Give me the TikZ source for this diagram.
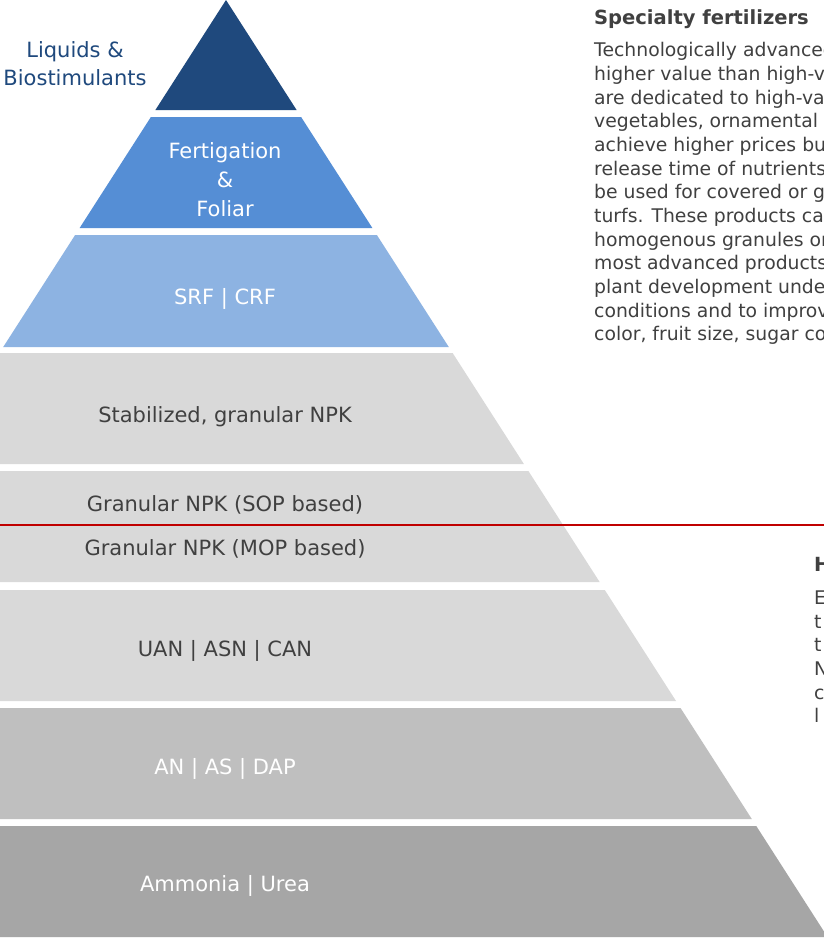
\documentclass[tikz,border=0pt]{standalone}
\usepackage{fontspec}
\setmainfont{DejaVu Sans}
\definecolor{navy}{HTML}{1F497D}
\definecolor{midblue}{HTML}{558ED5}
\definecolor{lightblue}{HTML}{8DB3E2}
\definecolor{grayA}{HTML}{D9D9D9}
\definecolor{grayB}{HTML}{BFBFBF}
\definecolor{grayC}{HTML}{A6A6A6}
\definecolor{txt}{HTML}{404040}
\definecolor{redline}{HTML}{C00000}
\newcommand\pyrlayer[3]{\fill[#3] ({226-0.642*#1},#1) -- ({226+0.642*#1},#1) -- ({226+0.642*#2},#2) -- ({226-0.642*#2},#2) -- cycle;}
\begin{document}
\begin{tikzpicture}[x=1pt,y=-1pt,
  lbl/.style={font=\fontsize{21}{28}\selectfont, align=center, inner sep=0pt},
  wlbl/.style={lbl, text=white},
  dlbl/.style={lbl, text=txt},
  body/.style={font=\fontsize{18.8}{22}\selectfont, text=txt, anchor=base west, inner sep=0pt},
  head/.style={font=\fontsize{19.5}{22}\selectfont\bfseries, text=txt, anchor=base west, inner sep=0pt}]
\useasboundingbox (0,0) rectangle (824,938);
\clip (0,0) rectangle (824,938);
\fill[white] (0,0) rectangle (824,938);
% pyramid layers
\fill[navy] (226,0) -- ({226+0.642*110},110) -- ({226-0.642*110},110) -- cycle;
\pyrlayer{117}{228}{midblue}
\pyrlayer{235}{347}{lightblue}
\pyrlayer{353}{464}{grayA}
\pyrlayer{471}{582}{grayA}
\pyrlayer{590}{701}{grayA}
\pyrlayer{708}{819}{grayB}
\pyrlayer{826}{937}{grayC}
% red divider
\coordinate (rl) at (0,525);
\coordinate (rr) at (824,525);
\draw[redline, line width=2.2pt] (rl) -- (rr);
% labels
\node[lbl, text=navy] (liq) at (75,64) {Liquids \&\\Biostimulants};
\node[wlbl, font=\fontsize{21}{29}\selectfont] (fert) at (225,180) {Fertigation\\\&\\Foliar};
\node[wlbl] (srf) at (225,299) {SRF | CRF};
\node[dlbl] (stab) at (225,417) {Stabilized, granular NPK};
\node[dlbl] (sop) at (225,505) {Granular NPK (SOP based)};
\node[dlbl] (mop) at (225,549) {Granular NPK (MOP based)};
\node[dlbl] (uan) at (225,651) {UAN | ASN | CAN};
\node[wlbl] (an) at (225,769) {AN | AS | DAP};
\node[wlbl] (amm) at (225,886) {Ammonia | Urea};
% right text
\node[head] (h1) at (594,24) {Specialty fertilizers};
\node[body] (b1) at (594,56) {Technologically advanced};
\node[body] (b2) at (594,80) {higher value than high-vo};
\node[body] (b3) at (594,104) {are dedicated to high-val};
\node[body] (b4) at (594,127) {vegetables, ornamental};
\node[body] (b5) at (594,151) {achieve higher prices but};
\node[body] (b6) at (594,175) {release time of nutrients};
\node[body] (b7) at (594,198) {be used for covered or gr};
\node[body] (b8) at (594,222) {turfs. These products can};
\node[body] (b9) at (594,246) {homogenous granules or};
\node[body] (b10) at (594,269) {most advanced products};
\node[body] (b11) at (594,293) {plant development under};
\node[body] (b12) at (594,317) {conditions and to improve};
\node[body] (b13) at (594,340) {color, fruit size, sugar co};
\node[head] (h2) at (814,571) {H};
\node[body] (c1) at (814,604) {E};
\node[body] (c2) at (814,628) {t};
\node[body] (c3) at (814,651) {t};
\node[body] (c4) at (814,675) {N};
\node[body] (c5) at (814,699) {c};
\node[body] (c6) at (814,722) {l};
\end{tikzpicture}
\end{document}
